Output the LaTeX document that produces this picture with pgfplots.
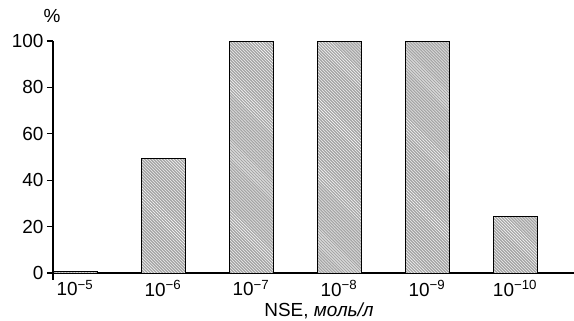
\documentclass[border=0pt]{standalone}
\usepackage{pgfplots}
\pgfplotsset{compat=1.18}
\usepackage{fontspec}
\setmainfont{Liberation Sans}
\usetikzlibrary{patterns}
\begin{document}
\begin{tikzpicture}
\begin{axis}[
  x=88bp, y=2.32bp,
  xmin=-0.25, xmax=5.67,
  ymin=-3, ymax=100,
  axis y line=left, axis x line=middle,
  axis line style={-, line width=1.1pt},
  ytick={0,20,40,60,80,100},
  xtick={0,1,2,3,4,5},
  xticklabels={10\textsuperscript{−5},10\textsuperscript{−6},10\textsuperscript{−7},10\textsuperscript{−8},10\textsuperscript{−9},10\textsuperscript{−10}},
  x tick style={draw=none},
  y tick style={line width=1.1pt, black},
  major tick length=6bp,
  tick align=outside,
  /pgf/number format/assume math mode=true,
  tick label style={font=\fontsize{19}{22}\selectfont},
  xticklabel style={yshift=2bp, anchor=north},
  clip=false,
]
\addplot[ybar, bar width=44bp, draw=black, line width=0.9pt, fill=gray!70,
  postaction={pattern=north west lines, pattern color=white}]
  coordinates {(0,0.6) (1,49.5) (2,99.8) (3,99.8) (4,99.8) (5,24.5)};
\coordinate (O) at (axis cs:-0.25,0);
\end{axis}
\node[font=\fontsize{19}{22}\selectfont] at ([shift={(-1bp,257bp)}]O) {\%};
\node[font=\fontsize{19}{22}\selectfont] at ([shift={(266bp,-38bp)}]O) {NSE, \textit{моль/л}};
\pgfresetboundingbox
\path[use as bounding box] ([shift={(-53bp,-48bp)}]O) rectangle ([shift={(521bp,273bp)}]O);
\end{tikzpicture}
\end{document}
